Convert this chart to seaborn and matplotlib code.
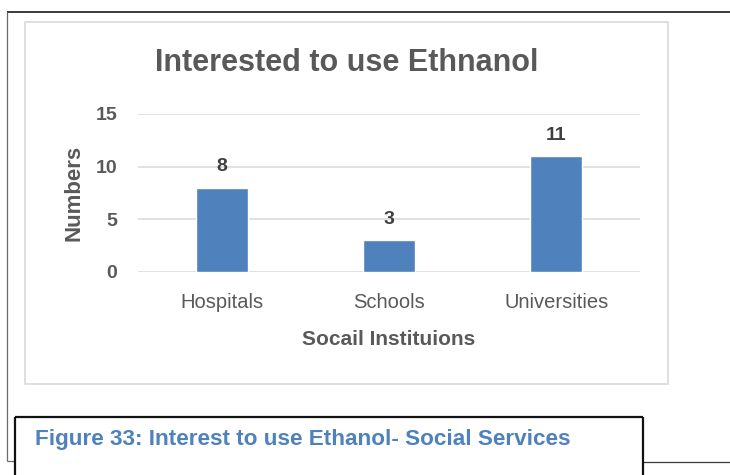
import pandas as pd
import matplotlib
matplotlib.use("Agg")
from matplotlib import pyplot as plt
from matplotlib.lines import Line2D
from matplotlib.patches import Rectangle
import seaborn as sns

# chart data
institutions = ["Hospitals", "Schools", "Universities"]
interested = [8, 3, 11]
y_ticks = [0, 5, 10, 15]

title = "Interested to use Ethnanol"
x_title = "Socail Instituions"
y_title = "Numbers"
caption = "Figure 33: Interest to use Ethanol- Social Services"

W, H = 730, 475
BLUE = "#4f81bd"
GREY = "#595959"

sns.set_style("white")
plt.rcParams["font.family"] = ["Liberation Sans", "DejaVu Sans"]

df = pd.DataFrame({"inst": institutions, "count": interested})

fig = plt.figure(figsize=(W / 100, H / 100), dpi=100)


def fx(x):
    return x / W


def fy(y):
    return 1 - y / H


# page decorations (document frame, chart box, caption box)
def hline(x0, x1, y, c, lw):
    fig.add_artist(Line2D([fx(x0), fx(x1)], [fy(y), fy(y)], color=c, lw=lw,
                          transform=fig.transFigure, solid_capstyle="butt"))


def vline(x, y0, y1, c, lw):
    fig.add_artist(Line2D([fx(x), fx(x)], [fy(y0), fy(y1)], color=c, lw=lw,
                          transform=fig.transFigure, solid_capstyle="butt"))


hline(7, 730, 12, "#3a3a3a", 1.4)
vline(7, 12, 461, "#6a6a6a", 0.9)
hline(7, 15, 461, "#6a6a6a", 0.9)
hline(643, 730, 462, "#3a3a3a", 0.9)

fig.add_artist(Rectangle((fx(25), fy(384)), fx(668) - fx(25), fy(22) - fy(384),
                         transform=fig.transFigure, fill=False,
                         edgecolor="#d9d9d9", lw=1.2))

hline(15, 643, 417, "#111111", 1.6)
vline(15, 417, 476, "#111111", 1.6)
vline(643, 417, 476, "#111111", 1.6)

fig.text(fx(35), fy(445), caption, color=BLUE, fontsize=16.2, fontweight="bold",
         va="baseline", ha="left")

# chart
ax = fig.add_axes([fx(138), fy(272), fx(640) - fx(138), fy(114) - fy(272)])
sns.barplot(data=df, x="inst", y="count", color=BLUE, saturation=1,
            width=0.31, ax=ax, zorder=3)

ax.set_ylim(0, 15)
ax.set_xlim(-0.5, 2.5)
ax.set_yticks(y_ticks)
ax.grid(axis="y", color="#d9d9d9", lw=1.1, zorder=0)
ax.set_axisbelow(True)
for s in ax.spines.values():
    s.set_visible(False)
ax.tick_params(length=0)
ax.tick_params(axis="y", pad=15, labelsize=14, labelcolor=GREY)
ax.tick_params(axis="x", pad=15, labelsize=14.5, labelcolor=GREY)
for lab in ax.get_yticklabels():
    lab.set_fontweight("bold")

for i, v in enumerate(interested):
    ax.annotate(str(v), (i, v), xytext=(0, 9), textcoords="offset points",
                ha="center", va="bottom", fontsize=14, fontweight="bold",
                color="#404040")

ax.set_xlabel(x_title, fontsize=15, fontweight="bold", color=GREY, labelpad=13)
ax.set_ylabel(y_title, fontsize=16, fontweight="bold", color=GREY, labelpad=8)

fig.text(fx(347), fy(71), title, color=GREY, fontsize=22, fontweight="bold",
         ha="center", va="baseline")

fig.savefig("out.png", dpi=100)
